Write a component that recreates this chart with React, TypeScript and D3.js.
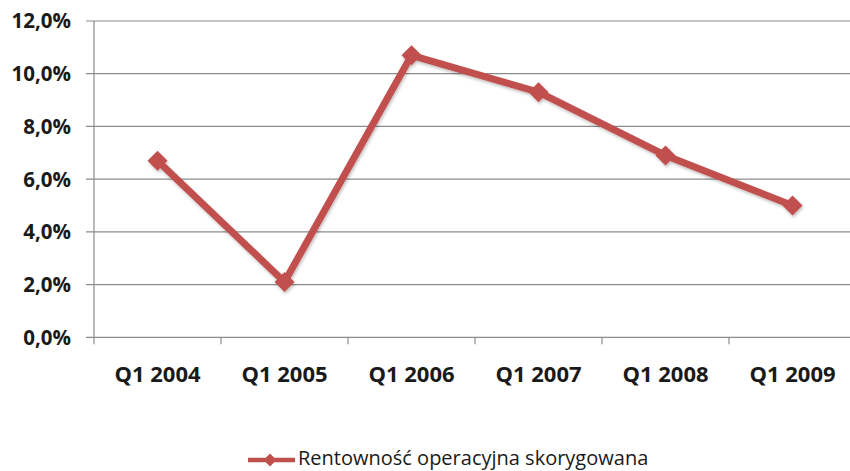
import React from "react";
import * as d3 from "d3";

const categories = ["Q1 2004", "Q1 2005", "Q1 2006", "Q1 2007", "Q1 2008", "Q1 2009"];
const values = [6.7, 2.1, 10.7, 9.3, 6.9, 5.0];
const yTicks = [0, 2, 4, 6, 8, 10, 12];
const seriesName = "Rentowność operacyjna skorygowana";

const W = 850;
const H = 471;
const left = 94;
const right = 856;
const top = 21;
const bottom = 337.3;
const color = "#c0504d";
const gridColor = "#8c8c8c";
const font = "'Open Sans', 'Noto Sans', sans-serif";

export default function App() {
  const x = d3.scaleBand().domain(categories).range([left, right]).padding(0);
  const y = d3.scaleLinear().domain([0, 12]).range([bottom, top]);
  const cx = (c: string) => (x(c) as number) + x.bandwidth() / 2;
  const line = d3
    .line<number>()
    .x((_, i) => cx(categories[i]))
    .y((d) => y(d));
  const diamond = (px: number, py: number, r: number) =>
    `M${px},${py - r}L${px + r},${py}L${px},${py + r}L${px - r},${py}Z`;
  const fmt = (v: number) => v.toFixed(1).replace(".", ",") + "%";

  return (
    <svg
      width={W}
      height={H}
      style={{ position: "absolute", left: 0, top: 0, display: "block", background: "#fff" }}
    >
      <defs>
        <filter id="sh" x="-10%" y="-10%" width="120%" height="130%">
          <feDropShadow dx="1" dy="2" stdDeviation="1.5" floodColor="#000" floodOpacity="0.25" />
        </filter>
      </defs>
      {yTicks.map((t) => (
        <g key={t}>
          <line x1={86} x2={W} y1={y(t)} y2={y(t)} stroke={gridColor} strokeWidth={1.2} />
          <text
            x={71}
            y={y(t)}
            dy="0.36em"
            textAnchor="end"
            fontFamily={font}
            fontWeight={700}
            fontSize={20.5}
            fill="#1a1a1a"
          >
            {fmt(t)}
          </text>
        </g>
      ))}
      <line x1={left} x2={left} y1={top} y2={bottom} stroke={gridColor} strokeWidth={1.2} />
      {categories.map((c) => (
        <g key={c}>
          <line
            x1={x(c) as number}
            x2={x(c) as number}
            y1={bottom}
            y2={bottom + 7}
            stroke={gridColor}
            strokeWidth={1.2}
          />
          <text
            x={cx(c)}
            y={382}
            textAnchor="middle"
            fontFamily={font}
            fontWeight={700}
            fontSize={22}
            fill="#1a1a1a"
          >
            {c}
          </text>
        </g>
      ))}
      <g filter="url(#sh)">
        <path
          d={line(values) as string}
          fill="none"
          stroke={color}
          strokeWidth={7}
          strokeLinejoin="round"
        />
        {values.map((v, i) => (
          <path key={i} d={diamond(cx(categories[i]), y(v), 10)} fill={color} />
        ))}
      </g>
      <line x1={248} x2={295} y1={460} y2={460} stroke={color} strokeWidth={4.5} />
      <path d={diamond(270, 460, 6.5)} fill={color} />
      <text x={298} y={465} fontFamily={font} fontSize={20} fill="#1a1a1a">
        {seriesName}
      </text>
    </svg>
  );
}
